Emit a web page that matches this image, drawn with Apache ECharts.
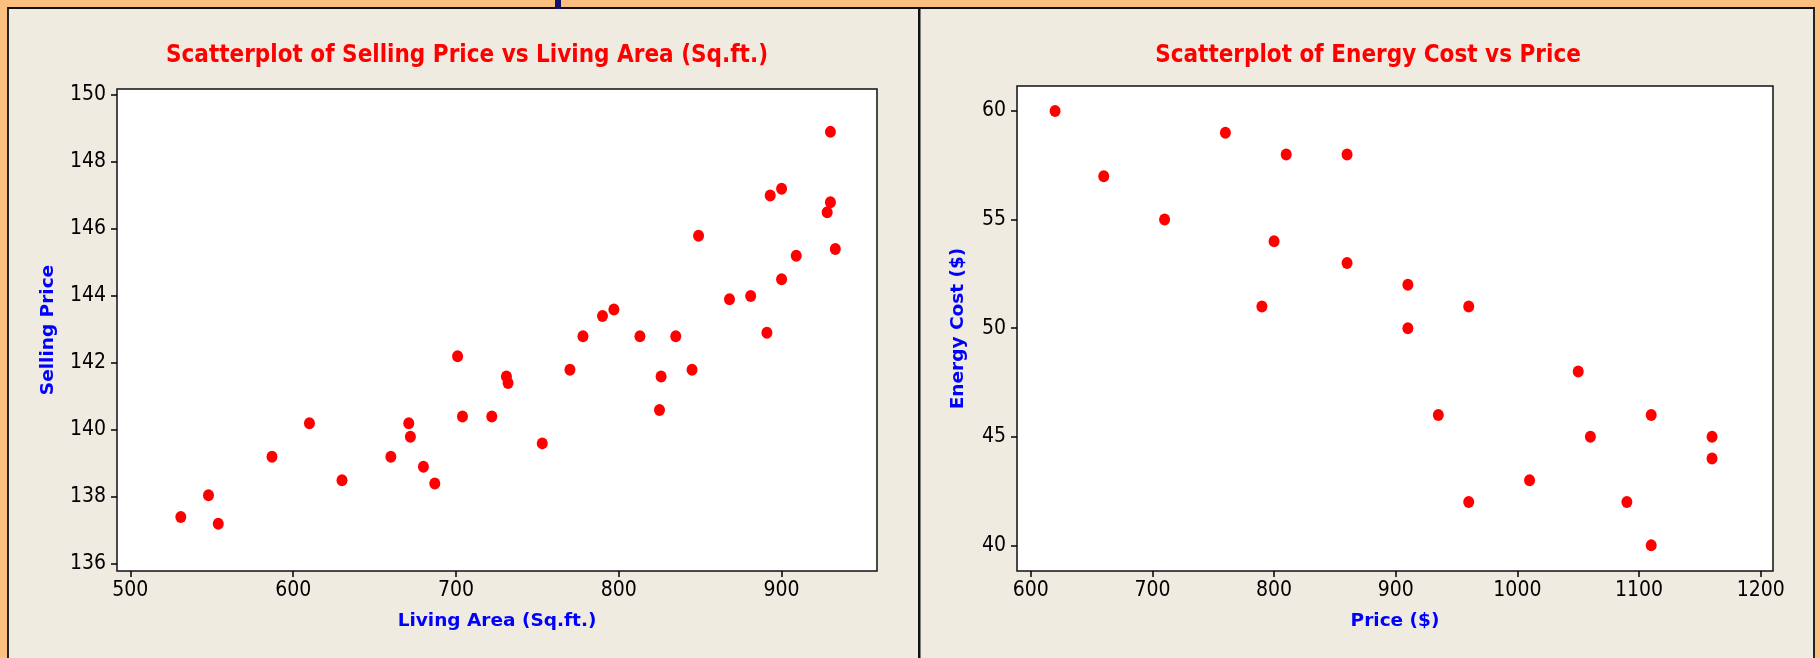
<!DOCTYPE html>
<html>
<head>
<meta charset="utf-8">
<script src="https://cdn.jsdelivr.net/npm/echarts@6/dist/echarts.min.js"></script>
<style>
  html, body { margin: 0; padding: 0; background: #fbc07f; }
  #chart { width: 1820px; height: 658px; }
</style>
</head>
<body>
<div id="chart"></div>
<script>
// left plot: living area (sq.ft.) vs selling price
var areaX = [531, 548, 554, 587, 610, 630, 660, 671, 672, 680, 687, 701, 704, 722, 731, 732, 753, 770, 778,
             790, 797, 813, 825, 826, 835, 845, 849, 868, 881, 891, 893, 900, 900, 909, 928, 930, 930, 933]
var sellY = [137.4, 138.05, 137.2, 139.2, 140.2, 138.5, 139.2, 140.2, 139.8, 138.9, 138.4, 142.2, 140.4, 140.4, 141.6, 141.4, 139.6, 141.8, 142.8,
             143.4, 143.6, 142.8, 140.6, 141.6, 142.8, 141.8, 145.8, 143.9, 144.0, 142.9, 147.0, 147.2, 144.5, 145.2, 146.5, 148.9, 146.8, 145.4]
var areaTicks = [500, 600, 700, 800, 900]
var sellTicks = [136, 138, 140, 142, 144, 146, 148, 150]

// right plot: price vs energy cost
var priceX = [620, 660, 710, 760, 790, 800, 810, 860, 860, 910, 910, 935, 960, 960, 1010, 1050, 1060, 1090, 1110, 1110, 1160, 1160]
var energyY = [60, 57, 55, 59, 51, 54, 58, 58, 53, 52, 50, 46, 51, 42, 43, 48, 45, 42, 46, 40, 45, 44]
var priceTicks = [600, 700, 800, 900, 1000, 1100, 1200]
var energyTicks = [40, 45, 50, 55, 60]

function pairs(xs, ys) {
    var out = []
    for (var i = 0; i < xs.length; i++) out.push([xs[i], ys[i]])
    return out
}

var tickFont = '"Liberation Sans Narrow", "DejaVu Sans Condensed", "Liberation Sans", sans-serif'
var boldFont = '"DejaVu Sans", Tahoma, sans-serif'

function valueAxis(idx, min, max, ticks, name, gap, vertical) {
    return {
        type: 'value',
        gridIndex: idx,
        min: min,
        max: max,
        name: name,
        nameLocation: 'middle',
        nameGap: gap,
        nameTextStyle: { color: '#0000ff', fontWeight: 'bold', fontSize: 18.5, fontFamily: boldFont },
        axisLine: { show: false },
        splitLine: { show: false },
        axisTick: { show: true, length: 6, customValues: ticks, lineStyle: { color: '#000', width: 1.5 } },
        axisLabel: {
            customValues: ticks, color: '#000', fontSize: 21, fontFamily: tickFont, margin: vertical ? 11 : 9,
            formatter: function (v) { return String(v) }
        }
    }
}

var chart = echarts.init(document.getElementById('chart'))
var option = {
    backgroundColor: '#fbc07f',
    animation: false,
    graphic: [
        { type: 'rect', shape: { x: 8, y: 8, width: 1806, height: 660 }, style: { fill: '#efebe0', stroke: '#111', lineWidth: 1.8 }, z: -10 },
        { type: 'rect', shape: { x: 918, y: 8, width: 2.5, height: 660 }, style: { fill: '#111' }, z: -9 },
        { type: 'rect', shape: { x: 555, y: 0, width: 6, height: 9 }, style: { fill: '#12126e' }, z: -9 }
    ],
    title: [
        { text: 'Scatterplot of Selling Price vs Living Area (Sq.ft.)', left: 462, top: 39, textAlign: 'center',
          textStyle: { color: '#ff0000', fontWeight: 'bold', fontSize: 24, fontFamily: tickFont } },
        { text: 'Scatterplot of Energy Cost vs Price', left: 1363, top: 39, textAlign: 'center',
          textStyle: { color: '#ff0000', fontWeight: 'bold', fontSize: 24, fontFamily: tickFont } }
    ],
    grid: [
        { left: 117, top: 89, width: 760, height: 482, show: true, backgroundColor: '#fff', borderColor: '#111', borderWidth: 1.5 },
        { left: 1017, top: 86, width: 756, height: 485, show: true, backgroundColor: '#fff', borderColor: '#111', borderWidth: 1.5 }
    ],
    xAxis: [
        valueAxis(0, 491.8, 958.6, areaTicks, 'Living Area (Sq.ft.)', 41, false),
        valueAxis(1, 588.7, 1210.1, priceTicks, 'Price ($)', 41, false)
    ],
    yAxis: [
        valueAxis(0, 135.79, 150.18, sellTicks, 'Selling Price', 59, true),
        valueAxis(1, 38.82, 61.15, energyTicks, 'Energy Cost ($)', 49, true)
    ],
    series: [
        { type: 'scatter', xAxisIndex: 0, yAxisIndex: 0, data: pairs(areaX, sellY),
          symbol: 'circle', symbolSize: [11, 12], itemStyle: { color: '#ff0000', opacity: 1 } },
        { type: 'scatter', xAxisIndex: 1, yAxisIndex: 1, data: pairs(priceX, energyY),
          symbol: 'circle', symbolSize: [11, 12], itemStyle: { color: '#ff0000', opacity: 1 } }
    ]
}
chart.setOption(option)
</script>
</body>
</html>
